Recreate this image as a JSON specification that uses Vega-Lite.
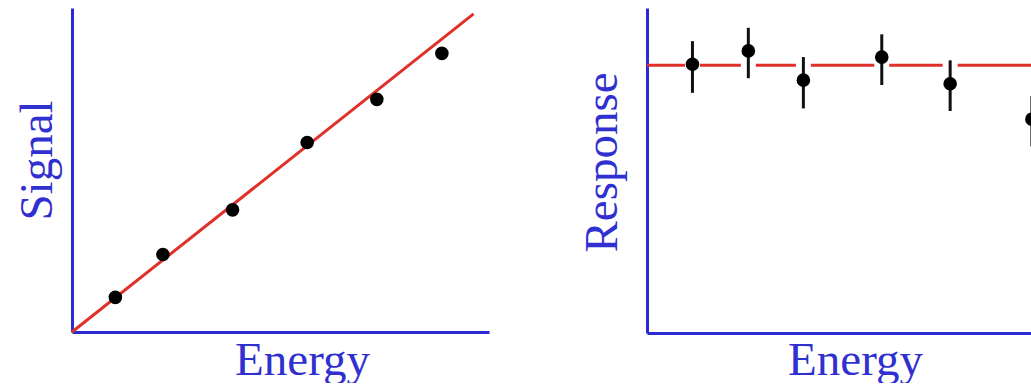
{
  "$schema": "https://vega.github.io/schema/vega-lite/v6.json",
  "background": "white",
  "padding": {"left": 13, "top": 7, "right": 0, "bottom": 0},
  "config": {
    "view": {"stroke": null},
    "axis": {
      "domainColor": "#2b2bd4",
      "domainWidth": 3,
      "ticks": false,
      "labels": false,
      "grid": false,
      "titleFont": "Liberation Serif",
      "titleFontSize": 47,
      "titleFontWeight": "normal",
      "titleColor": "#3030d0"
    }
  },
  "datasets": {
    "signal_pts": [
      {"energy": 1.04, "signal": 1.07},
      {"energy": 2.18, "signal": 2.39},
      {"energy": 3.85, "signal": 3.77},
      {"energy": 5.64, "signal": 5.85},
      {"energy": 7.31, "signal": 7.18},
      {"energy": 8.87, "signal": 8.60}
    ],
    "signal_fit": [
      {"energy": 0, "signal": 0},
      {"energy": 9.63, "signal": 9.82}
    ],
    "response_pts": [
      {"energy": 1.09, "response": 8.27, "lo": 7.39, "hi": 8.98},
      {"energy": 2.43, "response": 8.68, "lo": 7.84, "hi": 9.39},
      {"energy": 3.75, "response": 7.78, "lo": 6.91, "hi": 8.49},
      {"energy": 5.63, "response": 8.49, "lo": 7.63, "hi": 9.19},
      {"energy": 7.27, "response": 7.67, "lo": 6.83, "hi": 8.39},
      {"energy": 9.23, "response": 6.58, "lo": 5.75, "hi": 7.29}
    ],
    "response_fit": [
      {"level": 8.24}
    ]
  },
  "spacing": 88,
  "hconcat": [
    {
      "width": 417,
      "height": 324,
      "layer": [
        {
          "data": {"name": "signal_fit"},
          "mark": {"type": "line", "color": "#e0302a", "strokeWidth": 3},
          "encoding": {
            "x": {
              "field": "energy",
              "type": "quantitative",
              "scale": {"domain": [0, 10], "nice": false},
              "axis": {"title": "Energy", "titleX": 230, "titleY": 42, "titleBaseline": "alphabetic", "titleAlign": "center"}
            },
            "y": {
              "field": "signal",
              "type": "quantitative",
              "scale": {"domain": [0, 10], "nice": false},
              "axis": {"title": "Signal", "titleX": -21, "titleY": 152, "titleBaseline": "alphabetic", "titleAlign": "center", "titleAngle": -90}
            }
          }
        },
        {
          "data": {"name": "signal_pts"},
          "mark": {"type": "point", "filled": true, "color": "black", "opacity": 1, "size": 185},
          "encoding": {
            "x": {"field": "energy", "type": "quantitative"},
            "y": {"field": "signal", "type": "quantitative"}
          }
        }
      ]
    },
    {
      "width": 417,
      "height": 325,
      "layer": [
        {
          "data": {"name": "response_fit"},
          "mark": {"type": "rule", "color": "#e0302a", "strokeWidth": 3},
          "encoding": {
            "y": {
              "field": "level",
              "type": "quantitative",
              "scale": {"domain": [0, 10], "nice": false},
              "axis": {"title": "Response", "titleX": -31, "titleY": 154, "titleBaseline": "alphabetic", "titleAlign": "center", "titleAngle": -90}
            }
          }
        },
        {
          "data": {"name": "response_pts"},
          "mark": {"type": "rule", "color": "white", "strokeWidth": 15},
          "encoding": {
            "x": {
              "field": "energy",
              "type": "quantitative",
              "scale": {"domain": [0, 10], "nice": false},
              "axis": {"title": "Energy", "titleX": 208, "titleY": 41, "titleBaseline": "alphabetic", "titleAlign": "center"}
            },
            "y": {"field": "lo", "type": "quantitative"},
            "y2": {"field": "hi"}
          }
        },
        {
          "data": {"name": "response_pts"},
          "mark": {"type": "rule", "color": "#111111", "strokeWidth": 3},
          "encoding": {
            "x": {"field": "energy", "type": "quantitative"},
            "y": {"field": "lo", "type": "quantitative"},
            "y2": {"field": "hi"}
          }
        },
        {
          "data": {"name": "response_pts"},
          "mark": {"type": "point", "filled": true, "color": "black", "opacity": 1, "size": 185},
          "encoding": {
            "x": {"field": "energy", "type": "quantitative"},
            "y": {"field": "response", "type": "quantitative"}
          }
        }
      ]
    }
  ]
}
